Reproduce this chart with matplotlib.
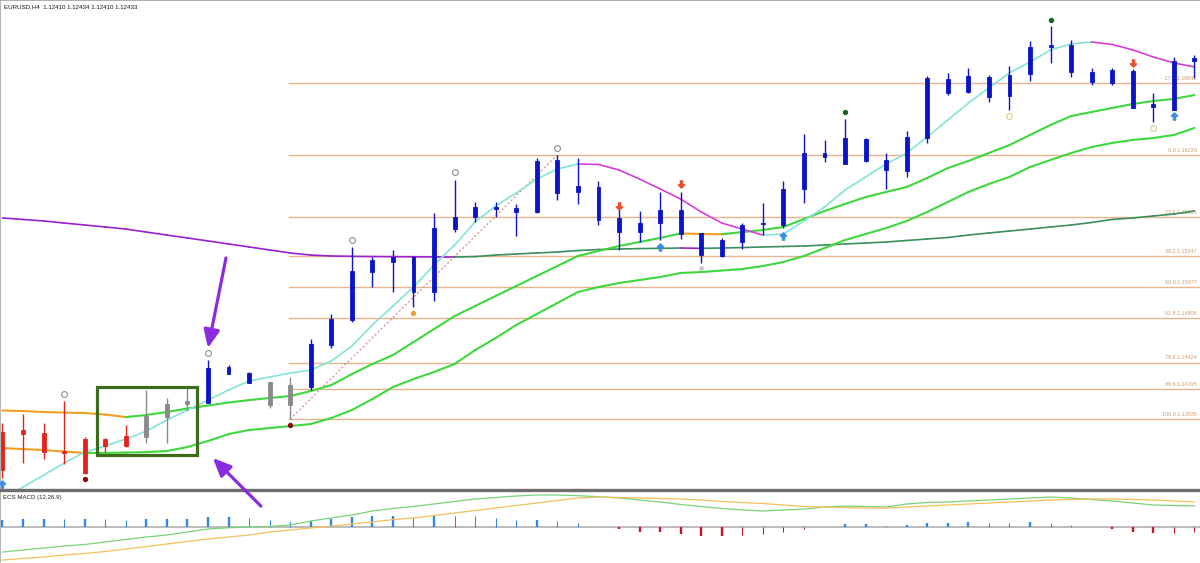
import numpy as np
import matplotlib
matplotlib.use("Agg")
import matplotlib.pyplot as plt
from matplotlib.collections import LineCollection
from matplotlib.patches import Rectangle
from matplotlib.path import Path

symbol_title = "EURUSD,H4  1.12410 1.12434 1.12410 1.12433"
macd_title = "ECS MACD (12,26,9)"

# ---- candles (H4 bars) ----
high = [1.13900, 1.13978, 1.13900, 1.14091, 1.13779, 1.13771, 1.13883, 1.14186, 1.14117, 1.14203,
        1.14446, 1.14402, 1.14342, 1.14255, 1.14299, 1.14627, 1.14844, 1.15424, 1.15337, 1.15398,
        1.15346, 1.15718, 1.16004, 1.15813, 1.15813, 1.15796, 1.16194, 1.16220, 1.16194, 1.15995,
        1.15761, 1.15735, 1.15900, 1.15900, 1.15545, 1.15502, 1.15631, 1.15804, 1.15995, 1.16402,
        1.16350, 1.16532, 1.16367, 1.16237, 1.16428, 1.16904, 1.16930, 1.16973, 1.16912, 1.16990,
        1.17207, 1.17336, 1.17215, 1.16973, 1.16973, 1.16964, 1.16757, 1.17068, 1.17085]
low = [1.13424, 1.13554, 1.13589, 1.13546, 1.13459, 1.13649, 1.13693, 1.13727, 1.13727, 1.14004,
       1.14073, 1.14324, 1.14247, 1.14030, 1.13935, 1.14186, 1.14550, 1.14775, 1.15077, 1.15034,
       1.14904, 1.14956, 1.15553, 1.15640, 1.15683, 1.15519, 1.15718, 1.15830, 1.15796, 1.15614,
       1.15398, 1.15467, 1.15484, 1.15493, 1.15285, 1.15337, 1.15406, 1.15527, 1.15588, 1.15804,
       1.16159, 1.16142, 1.16159, 1.15926, 1.16030, 1.16324, 1.16739, 1.16757, 1.16679, 1.16609,
       1.16860, 1.17016, 1.16895, 1.16826, 1.16826, 1.16627, 1.16506, 1.16609, 1.16886]
open_ = [1.13822, 1.13840, 1.13814, 1.13658, 1.13762, 1.13762, 1.13788, 1.13779, 1.13952, 1.14065,
         1.14073, 1.14324, 1.14247, 1.14056, 1.14056, 1.14212, 1.14575, 1.14792, 1.15207, 1.15294,
         1.15337, 1.15034, 1.15579, 1.15683, 1.15753, 1.15727, 1.15727, 1.15891, 1.15900, 1.15943,
         1.15675, 1.15553, 1.15631, 1.15744, 1.15545, 1.15346, 1.15467, 1.15623, 1.15614, 1.15926,
         1.16203, 1.16142, 1.16168, 1.16177, 1.16081, 1.16367, 1.16757, 1.16765, 1.16722, 1.16731,
         1.16921, 1.17155, 1.16938, 1.16852, 1.16843, 1.16947, 1.16635, 1.16609, 1.17034]
close = [1.13494, 1.13805, 1.13649, 1.13641, 1.13468, 1.13701, 1.13701, 1.13961, 1.14065, 1.14091,
         1.14376, 1.14385, 1.14333, 1.14255, 1.14229, 1.14584, 1.14801, 1.15216, 1.15311, 1.15337,
         1.15034, 1.15588, 1.15683, 1.15770, 1.15770, 1.15761, 1.16168, 1.16177, 1.15952, 1.15657,
         1.15553, 1.15631, 1.15744, 1.15536, 1.15354, 1.15484, 1.15614, 1.15631, 1.15926, 1.16237,
         1.16237, 1.16367, 1.16358, 1.16090, 1.16376, 1.16886, 1.16878, 1.16904, 1.16895, 1.16912,
         1.17155, 1.17172, 1.17172, 1.16938, 1.16956, 1.16627, 1.16661, 1.17034, 1.17060]
bar_state = (["down"] * 7 + ["flat"] * 3 + ["up"] * 3 + ["flat"] * 2 + ["up"] * 44)

# ---- moving averages ----
ma_fast = [1.14009, 1.14004, 1.13996, 1.13991, 1.13987, 1.13974, 1.13952, 1.13970, 1.13996, 1.14026,
           1.14052, 1.14078, 1.14099, 1.14117, 1.14134, 1.14177, 1.14229, 1.14324, 1.14411, 1.14489,
           1.14601, 1.14714, 1.14826, 1.14913, 1.15000, 1.15086, 1.15173, 1.15259, 1.15346, 1.15389,
           1.15432, 1.15467, 1.15502, 1.15541, 1.15536, 1.15534, 1.15553, 1.15571, 1.15597, 1.15666,
           1.15735, 1.15796, 1.15856, 1.15900, 1.15943, 1.16021, 1.16107, 1.16168, 1.16237, 1.16306,
           1.16393, 1.16480, 1.16557, 1.16592, 1.16627, 1.16661, 1.16687, 1.16705, 1.16739]
ma_slow = [1.13684, 1.13675, 1.13667, 1.13654, 1.13641, 1.13642, 1.13645, 1.13649, 1.13658, 1.13693,
           1.13745, 1.13805, 1.13840, 1.13857, 1.13874, 1.13892, 1.13944, 1.14013, 1.14108, 1.14212,
           1.14281, 1.14342, 1.14411, 1.14532, 1.14636, 1.14749, 1.14844, 1.14939, 1.15034, 1.15077,
           1.15112, 1.15138, 1.15164, 1.15199, 1.15207, 1.15220, 1.15233, 1.15259, 1.15294, 1.15346,
           1.15415, 1.15484, 1.15536, 1.15588, 1.15649, 1.15727, 1.15813, 1.15900, 1.15969, 1.16030,
           1.16116, 1.16177, 1.16237, 1.16289, 1.16324, 1.16350, 1.16367, 1.16393, 1.16454]
ema_signal = [1.13251, 1.13346, 1.13450, 1.13554, 1.13649, 1.13701, 1.13762, 1.13831, 1.13926, 1.14013,
              1.14099, 1.14186, 1.14264, 1.14299, 1.14333, 1.14359, 1.14437, 1.14567, 1.14749, 1.14913,
              1.15077, 1.15268, 1.15441, 1.15640, 1.15779, 1.15891, 1.16012, 1.16099, 1.16142, 1.16138,
              1.16090, 1.16012, 1.15926, 1.15839, 1.15727, 1.15631, 1.15579, 1.15527, 1.15536, 1.15649,
              1.15770, 1.15917, 1.16030, 1.16142, 1.16237, 1.16376, 1.16523, 1.16670, 1.16800, 1.16930,
              1.17025, 1.17129, 1.17181, 1.17198, 1.17176, 1.17129, 1.17068, 1.17016, 1.16982]
ma_long = [1.15675, 1.15662, 1.15649, 1.15631, 1.15614, 1.15597, 1.15579, 1.15553, 1.15527, 1.15502,
           1.15476, 1.15450, 1.15424, 1.15398, 1.15372, 1.15354, 1.15346, 1.15343, 1.15341, 1.15340,
           1.15339, 1.15338, 1.15337, 1.15341, 1.15354, 1.15363, 1.15372, 1.15380, 1.15393, 1.15402,
           1.15406, 1.15410, 1.15412, 1.15415, 1.15412, 1.15415, 1.15419, 1.15424, 1.15428, 1.15432,
           1.15441, 1.15450, 1.15458, 1.15467, 1.15480, 1.15493, 1.15506, 1.15527, 1.15545, 1.15562,
           1.15579, 1.15597, 1.15614, 1.15636, 1.15662, 1.15675, 1.15692, 1.15709, 1.15735]

# ---- Fibonacci retracement ----
fib_levels = [-27.2, 0.0, 23.6, 38.2, 50.0, 61.8, 78.6, 88.6, 100.0]
fib_prices = [1.16841, 1.16220, 1.15681, 1.15347, 1.15077, 1.14808, 1.14424, 1.14195, 1.13935]
fib_start_bar = 14
fib_end_bar = 27

# ---- signal markers (bar index, price) ----
circle_bars = [3, 10, 17, 22, 27]
circle_prices = [1.14151, 1.14506, 1.15484, 1.16073, 1.16281]
pale_circle_bars = [49, 56]
pale_circle_prices = [1.16557, 1.16454]
red_dot_bars = [4, 14]
red_dot_prices = [1.13416, 1.13883]
orange_dot_bars = [20]
orange_dot_prices = [1.14852]
green_dot_bars = [41, 51]
green_dot_prices = [1.16592, 1.17388]
grey_dot_bars = [34]
grey_dot_prices = [1.15242]
sell_arrow_bars = [30, 33, 55]
sell_arrow_prices = [1.15779, 1.15969, 1.17016]
buy_arrow_bars = [0, 32, 38, 57]
buy_arrow_prices = [1.13372, 1.15424, 1.15519, 1.16557]

# highlight box (bars, prices)
box_bar_left, box_bar_right = 4.6, 9.46
box_price_low, box_price_high = 1.13623, 1.14212

# ---- MACD panel ----
macd_hist = [7.3, 8.3, 8.4, 8.2, 8.4, 8.0, 7.3, 8.0, 8.3, 8.5,
             10.0, 10.2, 9.0, 7.3, 6.3, 6.7, 8.0, 10.0, 11.3, 11.4,
             10.7, 12.3, 11.3, 11.2, 9.0, 7.3, 7.5, 6.3, 4.7, 0.7,
             -2.0, -4.3, -5.0, -6.7, -8.3, -8.4, -7.7, -7.0, -4.7, -1.3,
             0.3, 3.0, 3.1, 1.3, 2.7, 4.7, 4.8, 5.7, 4.0, 3.9,
             5.0, 4.5, 2.5, 0.7, -1.3, -4.3, -6.0, -5.3, -5.0]
macd_main = [-24.7, -22.7, -20.7, -18.7, -17.2, -14.7, -12.2, -9.7, -7.7, -4.7,
             -1.7, -0.5, 0.3, 0.8, 2.3, 6.3, 9.3, 12.3, 16.3, 18.8,
             20.8, 23.3, 25.8, 28.3, 29.8, 31.3, 32.3, 32.3, 31.6, 30.6,
             29.3, 27.3, 25.3, 22.8, 20.8, 18.8, 17.3, 16.3, 17.3, 18.3,
             20.3, 21.3, 20.8, 20.3, 23.3, 24.8, 25.3, 26.3, 27.3, 28.3,
             29.3, 30.3, 29.3, 27.8, 26.3, 24.3, 22.3, 21.8, 21.3]
macd_signal = [-32.7, -31.2, -29.7, -27.7, -26.2, -24.2, -21.7, -19.2, -16.7, -14.2,
               -11.7, -9.7, -7.7, -4.7, -2.7, -0.7, 1.3, 3.3, 5.3, 7.8,
               9.3, 11.8, 14.3, 16.8, 19.3, 21.8, 24.3, 26.8, 29.3, 30.3,
               29.8, 29.3, 28.8, 28.3, 27.3, 25.8, 24.8, 23.8, 22.3, 20.8,
               20.3, 19.8, 19.3, 19.3, 20.3, 21.3, 22.3, 23.3, 24.3, 25.3,
               26.3, 27.3, 27.8, 28.3, 28.3, 27.8, 27.3, 26.3, 25.3]

# ---------------------------------------------------------------
W, H = 1200, 563
fig = plt.figure(figsize=(W / 100, H / 100), dpi=100)
fig.patch.set_facecolor("white")
sep = (H - 490) / H
ax = fig.add_axes([0, sep, 1, 1 - sep])
axm = fig.add_axes([0, 0, 1, sep])
ax.set_zorder(3)

n = len(high)
xs = np.arange(n)
xlim = (-0.12, 58.27)
for a in (ax, axm):
    a.set_xlim(*xlim)
    a.set_xticks([])
    a.set_yticks([])
ax.set_ylim(1.13321, 1.17561)
axm.set_ylim(-35.7, 37.3)

ax.spines["right"].set_visible(False)
axm.spines["right"].set_visible(False)
ax.spines["top"].set_color("#a0a0a0")
ax.spines["top"].set_linewidth(1.2)
ax.spines["left"].set_color("#b5b5b5")
ax.spines["bottom"].set_color("#6e6e6e")
ax.spines["bottom"].set_linewidth(2.4)
axm.spines["top"].set_visible(False)
axm.spines["bottom"].set_visible(False)
axm.spines["left"].set_color("#b5b5b5")


def slope_line(a, ys, up_c, dn_c, lw, z):
    ys = np.asarray(ys)
    pts = np.column_stack([xs, ys])
    segs = np.stack([pts[:-1], pts[1:]], axis=1)
    cols = [up_c if ys[k + 1] >= ys[k] else dn_c for k in range(len(ys) - 1)]
    lc = LineCollection(segs, colors=cols, linewidths=lw, capstyle="round",
                        joinstyle="round", zorder=z)
    a.add_collection(lc)


# Fibonacci lines + labels
fib_col = "#e7b48c"
for lvl, p in zip(fib_levels, fib_prices):
    ax.plot([fib_start_bar - 0.06, xlim[1]], [p, p], color=fib_col, lw=1.0, zorder=1)
    ax.annotate(f"{lvl:.1f} {p:.5f}", xy=(0.997, p), xycoords=("axes fraction", "data"),
                xytext=(0, 1.5), textcoords="offset points", ha="right", va="bottom",
                fontsize=3.9, color="#d29a6a", family="Liberation Sans", zorder=1)

# Fib trend line (dotted)
ax.plot([fib_start_bar, fib_end_bar], [low[fib_start_bar], high[fib_end_bar]],
        ls=(0, (1.6, 1.8)), color="#e08a8a", lw=0.9, zorder=1.5)

# Moving averages
slope_line(ax, ma_long, "#3b8f5e", "#9a22cc", 1.2, 2)
slope_line(ax, ma_slow, "#3ed83e", "#f0a020", 1.5, 2.1)
slope_line(ax, ma_fast, "#3ed83e", "#f0a020", 1.5, 2.1)
slope_line(ax, ema_signal, "#84e4d6", "#d63fd6", 1.2, 2.2)

# Candles
col_map = {"down": "#e3241b", "flat": "#8a8a8a", "up": "#0b14c6"}
cols = [col_map[s] for s in bar_state]
ax.vlines(xs, low, high, colors=cols, lw=1.0, zorder=3)
body_lo = np.minimum(open_, close)
body_hi = np.maximum(open_, close)
ax.bar(xs, body_hi - body_lo, bottom=body_lo, width=0.19, color=cols,
       edgecolor=cols, linewidth=0.6, zorder=3.1)

# Markers
ax.plot(circle_bars, circle_prices, "o", ms=4.2, mfc="white", mec="#8c8c8c", mew=0.8, zorder=4)
ax.plot(pale_circle_bars, pale_circle_prices, "o", ms=4.2, mfc="white", mec="#e0c890", mew=0.8, zorder=4)
ax.plot(red_dot_bars, red_dot_prices, "o", ms=2.8, color="#8b0a0a", zorder=4)
ax.plot(orange_dot_bars, orange_dot_prices, "o", ms=2.8, color="#f0a030", zorder=4)
ax.plot(green_dot_bars, green_dot_prices, "o", ms=2.8, color="#1d5e22", zorder=4)
ax.plot(grey_dot_bars, grey_dot_prices, "o", ms=2.5, color="#c8c8c8", zorder=4)

up_arrow = Path([(0, 0.5), (0.45, 0.05), (0.15, 0.05), (0.15, -0.5), (-0.15, -0.5),
                 (-0.15, 0.05), (-0.45, 0.05), (0, 0.5)], closed=True)
dn_arrow = Path([(0, -0.5), (0.45, -0.05), (0.15, -0.05), (0.15, 0.5), (-0.15, 0.5),
                 (-0.15, -0.05), (-0.45, -0.05), (0, -0.5)], closed=True)
ax.plot(sell_arrow_bars, sell_arrow_prices, ls="none", marker=dn_arrow, ms=5.2,
        color="#e6502c", mec="#e6502c", zorder=4)
ax.plot(buy_arrow_bars, buy_arrow_prices, ls="none", marker=up_arrow, ms=5.2,
        color="#3a8fe4", mec="#3a8fe4", zorder=4)

# Highlight box
ax.add_patch(Rectangle((box_bar_left, box_price_low), box_bar_right - box_bar_left,
                       box_price_high - box_price_low, fill=False, ec="#3d6b1c",
                       lw=2.3, zorder=5))

# Purple pointer arrows
arrow_col = "#8a2be2"
ax.annotate("", xy=(10, 1.14550), xytext=(18, 90), textcoords="offset pixels",
            arrowprops=dict(arrowstyle="-|>,head_length=0.9,head_width=0.4",
                            color=arrow_col, lw=2.3, shrinkA=0, shrinkB=0,
                            mutation_scale=12),
            annotation_clip=False, zorder=6)
ax.annotate("", xy=(10.24, 1.13597), xytext=(48, -48), textcoords="offset pixels",
            arrowprops=dict(arrowstyle="-|>,head_length=0.9,head_width=0.4",
                            color=arrow_col, lw=2.3, shrinkA=0, shrinkB=0,
                            mutation_scale=12),
            annotation_clip=False, zorder=6)

# Titles
ax.text(0.0035, 0.992, symbol_title, transform=ax.transAxes, ha="left", va="top",
        fontsize=4.4, family="Liberation Sans", color="#111111")
axm.text(0.0025, 0.935, macd_title, transform=axm.transAxes, ha="left", va="top",
         fontsize=4.4, family="Liberation Sans", color="#222222")

# MACD panel
axm.axhline(0, color="#a9a9a9", lw=1.1, zorder=1)
hist = np.asarray(macd_hist)
prev = np.concatenate([[0.0], hist[:-1]])
thick = np.where(hist >= 0, hist > prev, hist < prev)
hcol = np.where(hist >= 0, "#2e88e0", "#c8142c")
for i in range(n):
    axm.vlines(i, 0, hist[i], colors=hcol[i], lw=1.7 if thick[i] else 0.75, zorder=2)
axm.plot(xs, macd_main, color="#78d478", lw=0.9, zorder=3)
axm.plot(xs, macd_signal, color="#f3bf5a", lw=0.9, zorder=3)

fig.savefig("out.png", dpi=100)
